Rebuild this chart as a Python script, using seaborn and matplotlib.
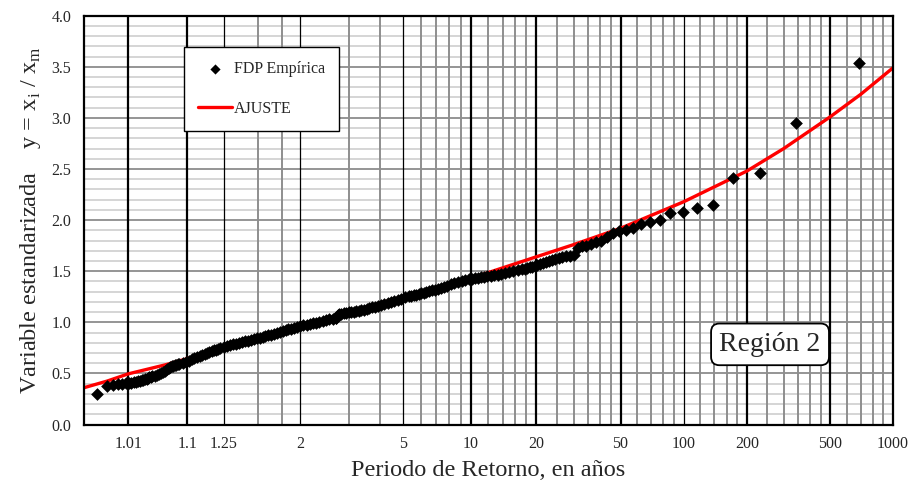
import numpy as np
import pandas as pd
import matplotlib
matplotlib.use("Agg")
import matplotlib.pyplot as plt
from matplotlib.ticker import MultipleLocator, NullLocator, FormatStrFormatter
import seaborn as sns

# muestra ordenada de mayor a menor, posicion de Weibull T = (n+1)/m
n_datos = 689

rango = [1, 2, 3, 4, 5, 6, 7, 8, 9, 10,
         11, 12, 13, 14, 15, 16, 17, 18, 19, 20,
         21, 22, 23, 24, 25, 26, 27, 28, 29, 30,
         31, 32, 33, 34, 35, 36, 37, 38, 39, 40,
         42, 44, 46, 48, 50, 52, 54, 56, 58, 60, 62, 64, 66, 68, 70,
         73, 76, 79, 82, 85, 88, 91, 94, 97, 100,
         103, 106, 109, 112, 115, 118, 121, 124, 127, 130,
         135, 140, 145, 150, 155, 160, 165, 170, 175, 180, 185, 190,
         195, 200, 205, 210, 215, 220, 225, 230, 235, 240, 245, 250,
         253, 256, 258, 264, 272, 280, 288, 296, 304, 312, 320, 328,
         336, 344, 352, 360, 368, 376, 384, 392, 400, 408, 416, 424,
         432, 440, 448, 456, 464, 472, 480, 488, 496, 504, 512, 520,
         528, 536, 544, 552, 560,
         565, 570, 575, 580, 585, 590, 595, 600, 605, 610, 615, 620,
         625, 630, 635, 640,
         642, 644, 646, 648, 650, 652, 654, 656, 658, 660, 662, 664,
         666, 668, 670,
         671, 672, 673, 674, 675, 676, 677, 678, 679, 680, 681, 682,
         683, 684, 685, 686, 687, 688, 689]

valor = [3.537, 2.95, 2.458, 2.409, 2.151, 2.119, 2.078, 2.07, 1.997, 1.98,
         1.965, 1.923, 1.907, 1.89, 1.87, 1.83, 1.80, 1.785, 1.765, 1.75,
         1.745, 1.73, 1.66, 1.65, 1.645, 1.635, 1.625, 1.615, 1.605, 1.595,
         1.59, 1.58, 1.57, 1.56, 1.555, 1.545, 1.54, 1.53, 1.525, 1.52,
         1.51, 1.50, 1.49, 1.48, 1.47, 1.465, 1.46, 1.455, 1.45, 1.445,
         1.44, 1.435, 1.43, 1.425, 1.42,
         1.41, 1.40, 1.39, 1.38, 1.37, 1.36, 1.35, 1.34, 1.33, 1.32,
         1.315, 1.305, 1.30, 1.29, 1.285, 1.28, 1.27, 1.265, 1.26, 1.255,
         1.245, 1.23, 1.22, 1.21, 1.195, 1.185, 1.175, 1.165, 1.155, 1.15,
         1.145, 1.14, 1.13, 1.125, 1.12, 1.115, 1.11, 1.105, 1.10, 1.098,
         1.095, 1.09, 1.085, 1.08,
         1.07, 1.045, 1.04, 1.035, 1.03, 1.02, 1.01, 1.005, 0.995, 0.99,
         0.98, 0.975, 0.97, 0.96, 0.955, 0.945, 0.935, 0.93, 0.92, 0.915,
         0.905, 0.895, 0.89, 0.88, 0.875, 0.865, 0.86, 0.85, 0.845, 0.835,
         0.83, 0.82, 0.815, 0.805, 0.80, 0.79, 0.785, 0.775, 0.765, 0.755,
         0.745,
         0.74, 0.73, 0.725, 0.715, 0.71, 0.70, 0.69, 0.68, 0.67, 0.66,
         0.65, 0.64, 0.625, 0.615, 0.605, 0.595,
         0.59, 0.585, 0.58, 0.575, 0.57, 0.56, 0.55, 0.54, 0.525, 0.51,
         0.50, 0.49, 0.48, 0.475, 0.47,
         0.465, 0.46, 0.455, 0.45, 0.445, 0.44, 0.435, 0.43, 0.425, 0.42,
         0.415, 0.41, 0.41, 0.405, 0.40, 0.395, 0.39, 0.375, 0.30]

# curva de ajuste
periodo_ajuste = [1.00055, 1.003, 1.01, 1.05, 1.1, 1.25, 1.5, 2, 3, 5,
                  10, 20, 30, 50, 100, 200, 300, 500, 700, 1000]
valor_ajuste = [0.36, 0.425, 0.495, 0.585, 0.645, 0.75, 0.83, 0.95, 1.10, 1.25,
                1.43, 1.64, 1.76, 1.92, 2.18, 2.48, 2.70, 3.01, 3.23, 3.49]

ticks_periodo = [1.01, 1.1, 1.25, 2, 5, 10, 20, 50, 100, 200, 500, 1000]
ticks_texto = ["1.01", "1.1", "1.25", "2", "5", "10", "20", "50", "100", "200", "500", "1000"]
lim_periodo = [1.00055, 1000]

lineas_gruesas = [1.01, 1.1, 10, 20, 50, 200, 500]
lineas_finas = [1.25, 2, 5, 100]
lineas_grises = [1.5, 1.75, 3, 4, 6, 7, 8, 9, 12, 14, 16, 18, 25, 30, 35, 40, 45,
                 60, 70, 80, 90, 120, 140, 160, 180, 250, 300, 350, 400, 450,
                 600, 700, 800, 900]


def gumbel(t):
    t = np.asarray(t, dtype=float)
    with np.errstate(all="ignore"):
        return -np.log(-np.log(1.0 - 1.0 / t))


def gumbel_inv(u):
    u = np.asarray(u, dtype=float)
    with np.errstate(all="ignore"):
        return 1.0 / (1.0 - np.exp(-np.exp(-u)))


sns.set_theme(style="white")
plt.rcParams["font.family"] = ["Liberation Serif", "DejaVu Serif"]
plt.rcParams["mathtext.fontset"] = "custom"
plt.rcParams["mathtext.rm"] = "Liberation Serif"

df = pd.DataFrame({"periodo": (n_datos + 1) / np.array(rango, dtype=float),
                   "valor": valor})
df_aj = pd.DataFrame({"periodo": periodo_ajuste, "valor": valor_ajuste})

fig = plt.figure(figsize=(9.11, 4.86), dpi=100)
ax = fig.add_axes([84 / 911, 1 - 424.5 / 486, 809 / 911, 408.8 / 486])
ax.set_xscale("function", functions=(gumbel, gumbel_inv))
ax.set_xlim(lim_periodo)
ax.set_ylim(0, 4)

# rejilla
ax.yaxis.set_major_locator(MultipleLocator(0.5))
ax.yaxis.set_minor_locator(MultipleLocator(0.1))
ax.grid(which="minor", axis="y", color="#d2d2d2", lw=1.3, zorder=0)
ax.grid(which="major", axis="y", color="#8c8c8c", lw=1.3, zorder=0)
for t in lineas_grises:
    ax.axvline(t, color="#8e8e8e", lw=1.4, zorder=1)
for t in lineas_finas:
    ax.axvline(t, color="black", lw=0.9, zorder=1)
for t in lineas_gruesas:
    ax.axvline(t, color="black", lw=1.6, zorder=1)

sns.lineplot(data=df_aj, x="periodo", y="valor", color="red", lw=2.4,
             label="AJUSTE", zorder=2, ax=ax)
sns.scatterplot(data=df, x="periodo", y="valor", marker="D", color="black",
                s=42, linewidth=0, label="FDP Empírica", zorder=3, ax=ax)

ax.set_xticks(ticks_periodo)
ax.set_xticklabels(ticks_texto)
ax.xaxis.set_minor_locator(NullLocator())
ax.tick_params(axis="x", which="major", direction="out", length=3, width=1,
               color="black", pad=5, labelsize=11.5)
ax.tick_params(axis="y", which="both", length=0, pad=9, labelsize=11.5)
ax.yaxis.set_major_formatter(FormatStrFormatter("%.1f"))

for s in ax.spines.values():
    s.set_color("black")
    s.set_linewidth(1.6)
    s.set_zorder(5)

ax.set_xlabel("Periodo de Retorno, en años", fontsize=17.5, labelpad=6)
ax.set_ylabel(r"Variable estandarizada    y = x$_{\mathrm{i}}$ / x$_{\mathrm{m}}$",
              fontsize=17.5, labelpad=6)

handles, labels = ax.get_legend_handles_labels()
orden = [labels.index("FDP Empírica"), labels.index("AJUSTE")]
leg = ax.legend([handles[i] for i in orden], [labels[i] for i in orden],
                loc="upper left", bbox_to_anchor=(0.1236, 0.9235),
                borderaxespad=0, fancybox=False, framealpha=1,
                edgecolor="black", fontsize=11.5, borderpad=0.9,
                labelspacing=1.45, handlelength=2.1, handletextpad=0.1,
                markerscale=0.8)
leg.get_frame().set_linewidth(1.0)
leg.set_zorder(6)

ax.text(0.848, 0.196, "Región 2", transform=ax.transAxes, fontsize=20,
        ha="center", va="center", zorder=6,
        bbox=dict(boxstyle="round,pad=0.3", fc="white", ec="black", lw=1.3))

fig.savefig("out.png", dpi=100)
